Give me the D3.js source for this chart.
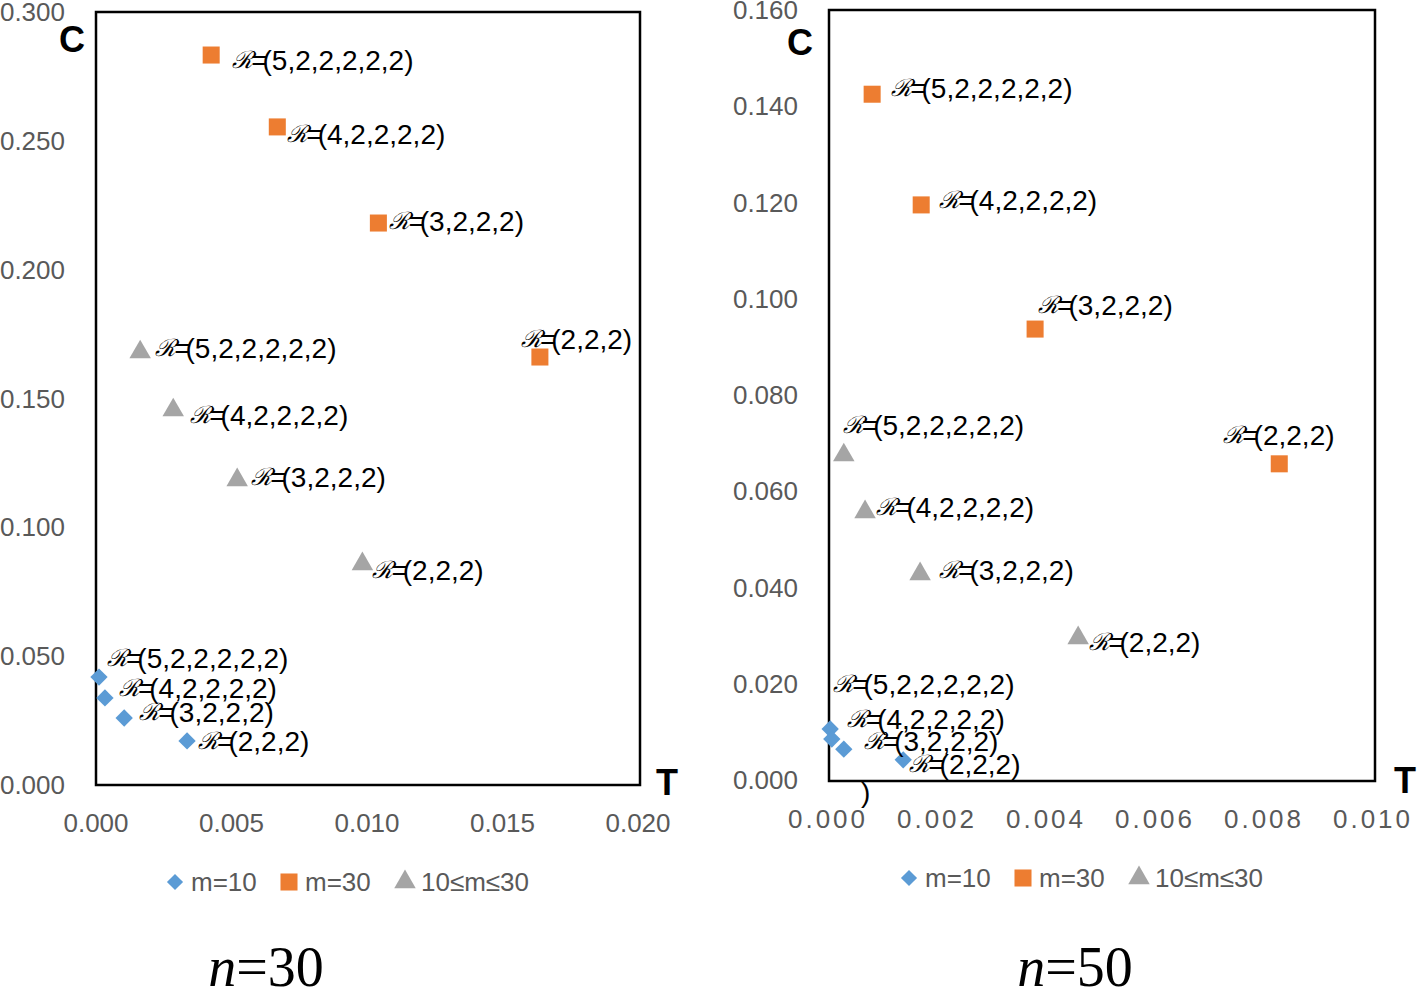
<!DOCTYPE html>
<html lang="en">
<head>
<meta charset="UTF-8">
<title>C vs T scatter</title>
<script src="https://d3js.org/d3.v7.min.js"></script>
<style>
  body { margin: 0; background: #fff; }
  svg { display: block; }
  .tick-label { fill: #595959; font-family: "Liberation Sans", Arial, sans-serif; font-size: 26px; }
  .pt-label { fill: #000; font-family: "Liberation Sans", Arial, sans-serif; font-size: 28px; }
  .axis-name { fill: #000; font-family: "Liberation Sans", Arial, sans-serif; font-size: 36px; font-weight: bold; }
  .legend-text { fill: #595959; font-family: "Liberation Sans", Arial, sans-serif; font-size: 26px; }
  .title { fill: #000; font-family: "Liberation Serif", "Times New Roman", serif; font-size: 56px; }
</style>
</head>
<body>
<div id="chart"></div>
<script>
// censoring schemes (labels) and series
const schemes = ["(5,2,2,2,2,2)", "(4,2,2,2,2)", "(3,2,2,2)", "(2,2,2)"];
const seriesNames = ["m=10", "m=30", "10≤m≤30"];
const colors = ["#5B9BD5", "#ED7D31", "#A5A5A5"];

// n = 30 panel
const n30_m10_T = [0.00011, 0.00033, 0.00104, 0.00336];
const n30_m10_C = [0.0419, 0.0338, 0.0260, 0.0171];
const n30_m30_T = [0.00425, 0.00669, 0.01042, 0.01638];
const n30_m30_C = [0.2833, 0.2554, 0.2181, 0.1661];
const n30_mix_T = [0.00163, 0.00285, 0.00521, 0.00983];
const n30_mix_C = [0.1680, 0.1455, 0.1184, 0.0858];
const n30_xTicks = [0, 0.005, 0.010, 0.015, 0.020];
const n30_yTicks = [0, 0.05, 0.10, 0.15, 0.20, 0.25, 0.30];

// n = 50 panel
const n50_m10_T = [0.00004, 0.00007, 0.00029, 0.00138];
const n50_m10_C = [0.0106, 0.0085, 0.0064, 0.0042];
const n50_m30_T = [0.00081, 0.00171, 0.00380, 0.00828];
const n50_m30_C = [0.1425, 0.1195, 0.0937, 0.0657];
const n50_mix_T = [0.00029, 0.00068, 0.00169, 0.00459];
const n50_mix_C = [0.0675, 0.0557, 0.0428, 0.0295];
const n50_xTicks = [0, 0.002, 0.004, 0.006, 0.008, 0.010];
const n50_yTicks = [0, 0.02, 0.04, 0.06, 0.08, 0.10, 0.12, 0.14, 0.16];

// label placement offsets (px from marker) [dx, dy]
const n30_offsets = [
  [[8, -19], [14, -10], [15, -6], [11, 0]],
  [[21, 5], [10, 7], [11, -2], [-19, -18]],
  [[15, -4], [17, 5], [14, -3], [10, 6]]
];
const n50_offsets = [
  [[3, -45], [15, -20], [20, -8], [6, 4]],
  [[19, -6], [18, -5], [3, -24], [-56, -29]],
  [[-1, -30], [11, -5], [19, -4], [11, 4]]
];

const W = 1418, H = 989;
const svg = d3.select("#chart").append("svg").attr("width", W).attr("height", H);

function drawPanel(p) {
  const x = d3.scaleLinear().domain(p.xDomain).range(p.xRange);
  const y = d3.scaleLinear().domain(p.yDomain).range(p.yRange);
  const g = svg.append("g");

  // plot frame
  g.append("rect")
    .attr("x", p.box[0]).attr("y", p.box[1])
    .attr("width", p.box[2] - p.box[0]).attr("height", p.box[3] - p.box[1])
    .attr("fill", "none").attr("stroke", "#000").attr("stroke-width", 2.5);

  // y tick labels
  g.selectAll(".ytl").data(p.yTicks).enter().append("text")
    .attr("class", "tick-label")
    .attr("x", p.yLabelX).attr("y", d => y(d))
    .attr("dominant-baseline", "central")
    .attr("text-anchor", "end")
    .text(d3.format(".3f"));

  // x tick labels
  g.selectAll(".xtl").data(p.xTicks).enter().append("text")
    .attr("class", "tick-label")
    .attr("x", d => x(d)).attr("y", p.xLabelY)
    .attr("dominant-baseline", "central")
    .attr("text-anchor", "middle")
    .style("letter-spacing", p.xLetterSpacing + "px")
    .text(d3.format(".3f"));

  // axis names
  g.append("text").attr("class", "axis-name").attr("x", p.cPos[0]).attr("y", p.cPos[1]).text("C");
  g.append("text").attr("class", "axis-name").attr("x", p.tPos[0]).attr("y", p.tPos[1]).text("T");

  const shapes = [
    d3.symbol().type(d3.symbolSquare).size(150),
    d3.symbol().type(d3.symbolSquare).size(290),
    d3.symbol().type(d3.symbolTriangle).size(200)
  ];
  const rotations = [45, 0, 0];

  p.series.forEach((s, si) => {
    const pts = s.T.map((t, i) => ({ t, c: s.C[i], label: p.labels[i], off: p.offsets[si][i] }));
    g.selectAll(".m" + si).data(pts).enter().append("path")
      .attr("d", shapes[si])
      .attr("transform", d => `translate(${x(d.t)},${y(d.c)}) rotate(${rotations[si]})`)
      .attr("fill", colors[si]);

    const lab = g.selectAll(".l" + si).data(pts).enter().append("text")
      .attr("class", "pt-label")
      .attr("x", d => x(d.t) + d.off[0])
      .attr("y", d => y(d.c) + d.off[1])
      .attr("dominant-baseline", "central");
    lab.append("tspan")
      .style("font-family", "'DejaVu Serif', serif")
      .style("font-style", "italic")
      .style("font-size", "24px")
      .text("ℛ");
    lab.append("tspan").attr("dx", -2).text("=");
    lab.append("tspan").attr("dx", -5).text(d => d.label);
  });

  (p.extra || []).forEach(e => {
    g.append("text").attr("class", "pt-label").attr("x", e[0]).attr("y", e[1])
      .attr("dominant-baseline", "central").text(e[2]);
  });

  // legend
  const lg = g.append("g").attr("transform", `translate(${p.legend[0]},${p.legend[1]})`);
  const legendX = [0, 114, 230];
  seriesNames.forEach((name, i) => {
    lg.append("path")
      .attr("d", d3.symbol().type(i === 2 ? d3.symbolTriangle : d3.symbolSquare).size(i === 0 ? 130 : i === 1 ? 290 : 200))
      .attr("transform", `translate(${legendX[i]},0) rotate(${rotations[i]})`)
      .attr("fill", colors[i]);
    lg.append("text").attr("class", "legend-text")
      .attr("x", legendX[i] + 16).attr("y", 0)
      .attr("dominant-baseline", "central")
      .text(name);
  });

  // panel title
  const tt = g.append("text").attr("class", "title")
    .attr("x", p.title[0]).attr("y", p.title[1]).attr("text-anchor", "middle");
  tt.append("tspan").style("font-style", "italic").text("n");
  tt.append("tspan").text("=" + p.n);
}

drawPanel({
  n: 30,
  xDomain: [0, 0.02], xRange: [96, 638],
  yDomain: [0, 0.30], yRange: [785, 12],
  box: [96, 12, 640, 785],
  xTicks: n30_xTicks, yTicks: n30_yTicks,
  yLabelX: 65, xLabelY: 823, xLetterSpacing: 0,
  cPos: [59, 52], tPos: [656, 795],
  labels: schemes,
  series: [{ T: n30_m10_T, C: n30_m10_C }, { T: n30_m30_T, C: n30_m30_C }, { T: n30_mix_T, C: n30_mix_C }],
  offsets: n30_offsets,
  legend: [175, 882],
  title: [266, 986]
});

drawPanel({
  n: 50,
  xDomain: [0, 0.01], xRange: [828, 1373],
  yDomain: [0, 0.16], yRange: [780, 10],
  box: [829, 10, 1375, 781],
  xTicks: n50_xTicks, yTicks: n50_yTicks,
  yLabelX: 798, xLabelY: 819, xLetterSpacing: 3,
  cPos: [787, 55], tPos: [1394, 793],
  labels: schemes,
  series: [{ T: n50_m10_T, C: n50_m10_C }, { T: n50_m30_T, C: n50_m30_C }, { T: n50_mix_T, C: n50_mix_C }],
  offsets: n50_offsets,
  extra: [[861, 792, ")"]],
  legend: [909, 878],
  title: [1075, 986]
});
</script>
</body>
</html>
